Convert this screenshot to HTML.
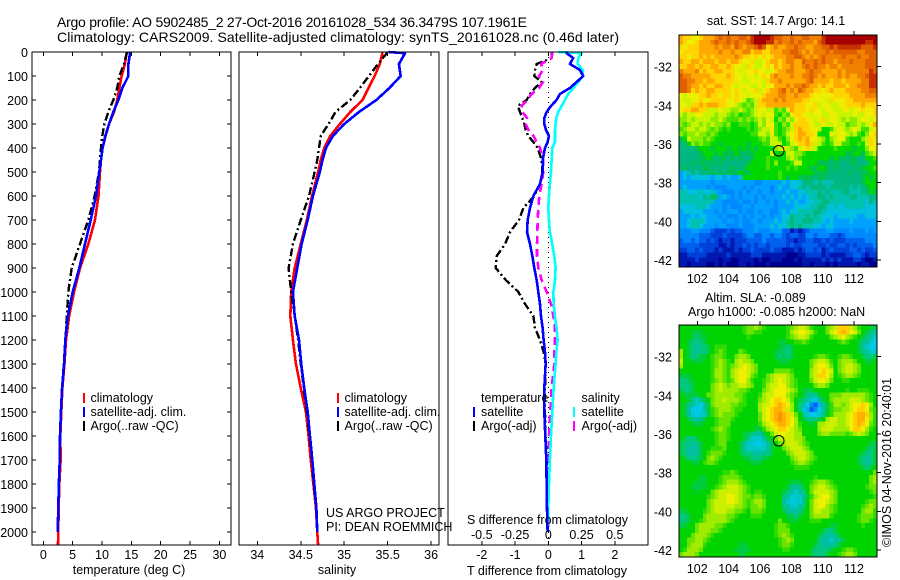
<!DOCTYPE html>
<html>
<head>
<meta charset="utf-8">
<title>Argo profile</title>
<style>
html,body{margin:0;padding:0;background:#fff;}
svg{display:block;}
text{font-family:"Liberation Sans",sans-serif;font-size:12.5px;fill:#000;}
.axisbox{fill:none;stroke:#000;stroke-width:1;shape-rendering:crispEdges;}
.tick{stroke:#000;stroke-width:1;shape-rendering:crispEdges;}
.series{fill:none;shape-rendering:crispEdges;stroke-linejoin:round;}
</style>
</head>
<body>
<svg id="chart" xmlns="http://www.w3.org/2000/svg" width="900" height="580" viewBox="0 0 900 580">
  <rect x="0" y="0" width="900" height="580" fill="#fff"/>
  <text x="57" y="27" style="font-size:14px" textLength="470">Argo profile: AO 5902485_2 27-Oct-2016 20161028_534 36.3479S 107.1961E</text>
  <text x="57" y="42" style="font-size:14px" textLength="562">Climatology: CARS2009. Satellite-adjusted climatology: synTS_20161028.nc (0.46d later)</text>

  <g id="temp-panel"></g>
  <g id="sal-panel"></g>
  <g id="diff-panel"></g>
  <g id="sst-map"></g>
  <g id="sla-map"></g>

  <text x="129" y="574" text-anchor="middle">temperature (deg C)</text>
  <text x="337" y="574" text-anchor="middle">salinity</text>
  <text x="547" y="575" text-anchor="middle">T difference from climatology</text>
  <text x="467" y="524">S difference from climatology</text>

  <g>
    <rect x="83" y="393" width="2" height="10" fill="#f00"/>
    <rect x="83" y="407" width="2" height="10" fill="#00f"/>
    <rect x="83" y="421" width="2" height="10" fill="#000"/>
    <text x="90.5" y="402">climatology</text>
    <text x="90.5" y="416">satellite-adj. clim.</text>
    <text x="90.5" y="430">Argo(..raw -QC)</text>
  </g>
  <g>
    <rect x="337" y="393" width="2" height="10" fill="#f00"/>
    <rect x="337" y="407" width="2" height="10" fill="#00f"/>
    <rect x="337" y="421" width="2" height="10" fill="#000"/>
    <text x="344.5" y="402">climatology</text>
    <text x="344.5" y="416">satellite-adj. clim.</text>
    <text x="344.5" y="430">Argo(..raw -QC)</text>
  </g>
  <text x="326" y="517">US ARGO PROJECT</text>
  <text x="326" y="531">PI: DEAN ROEMMICH</text>
  <g>
    <text x="481" y="402">temperature</text>
    <text x="581.5" y="402">salinity</text>
    <rect x="473" y="407" width="2" height="10" fill="#00f"/>
    <rect x="473" y="421" width="2" height="10" fill="#000"/>
    <rect x="573" y="407" width="2" height="10" fill="#0ff"/>
    <rect x="573" y="421" width="2" height="10" fill="#f0f"/>
    <text x="481" y="416">satellite</text>
    <text x="481" y="430">Argo(-adj)</text>
    <text x="581.5" y="416">satellite</text>
    <text x="581.5" y="430">Argo(-adj)</text>
  </g>

  <text x="776" y="25" text-anchor="middle">sat. SST: 14.7 Argo: 14.1</text>
  <text x="705" y="302">Altim. SLA: -0.089</text>
  <text x="688" y="316">Argo h1000: -0.085 h2000: NaN</text>
  <text transform="translate(891,547) rotate(-90)">©IMOS 04-Nov-2016 20:40:01</text>
</svg>

<script>
// ---------- profile data ----------
const profileDepths = [0,5,50,100,150,200,250,300,350,400,450,500,600,700,800,900,1000,1100,1200,1300,1400,1500,1600,1700,1800,1900,2000,2055];
const tempClim = [14.2,14.2,13.9,13.35,12.95,12.6,12.05,11.2,10.6,10.1,9.83,9.66,9.4,8.8,7.67,6.25,5.23,4.4,3.87,3.6,3.25,3.07,2.9,2.95,2.73,2.62,2.55,2.5];
const tempSat = [14.77,14.77,14.5,14.5,13.46,12.78,11.93,11.2,10.56,10.1,9.83,9.54,8.98,8.07,7.1,6.14,5.0,4.2,3.75,3.55,3.2,3.0,2.85,2.8,2.65,2.55,2.45];
const tempArgo = [14.2,14.2,13.75,12.95,12.6,11.93,11.07,10.4,10.05,9.83,9.66,9.49,8.75,7.67,6.25,4.83,4.26,4.0,3.75,3.5,3.2,3.0,2.85,2.8,2.65,2.55,2.45];
const salClim = [35.44,35.44,35.41,35.35,35.28,35.21,35.07,34.95,34.84,34.77,34.73,34.70,34.63,34.57,34.50,34.43,34.39,34.38,34.41,34.445,34.50,34.56,34.59,34.615,34.645,34.675,34.69,34.70];
const salSat = [35.51,35.70,35.63,35.65,35.52,35.37,35.17,35.0,34.87,34.79,34.75,34.72,34.64,34.58,34.51,34.46,34.41,34.43,34.48,34.506,34.54,34.58,34.606,34.633,34.656,34.68,34.69];
const salArgo = [35.49,35.49,35.39,35.285,35.18,35.07,34.90,34.82,34.73,34.71,34.69,34.66,34.595,34.50,34.41,34.36,34.39,34.43,34.47,34.5,34.535,34.57,34.6,34.63,34.65,34.68,34.69];

const diffDepths = [0,5,25,50,75,100,125,150,175,200,225,250,275,300,325,350,375,400,450,500,550,600,650,700,750,800,850,900,950,1000,1050,1100,1150,1200,1250,1300,1400,1500,1600,1700,1800,1900,2000];
const diffTSat = [0.55,0.55,0.75,0.65,0.95,1.05,0.85,0.65,0.35,0.25,0.08,-0.05,-0.12,-0.12,-0.07,0.02,-0.02,-0.10,-0.17,-0.17,-0.25,-0.45,-0.55,-0.62,-0.64,-0.55,-0.48,-0.42,-0.35,-0.30,-0.25,-0.22,-0.17,-0.14,-0.10,-0.08,-0.12,-0.12,-0.09,-0.06,-0.05,-0.04,-0.02];
const diffTArgo = [0.1,0.1,0.1,-0.35,-0.4,-0.42,-0.2,-0.4,-0.55,-0.65,-0.92,-0.85,-0.78,-0.72,-0.68,-0.60,-0.45,-0.32,-0.2,-0.18,-0.25,-0.42,-0.75,-0.88,-1.15,-1.30,-1.55,-1.58,-1.28,-0.90,-0.70,-0.45,-0.40,-0.25,-0.14,-0.08,-0.10,-0.10,-0.08,-0.05,-0.04,-0.03,-0.02];
const diffSSat = [0.075,0.25,0.225,0.22,0.26,0.26,0.225,0.19,0.15,0.125,0.10,0.075,0.06,0.055,0.05,0.05,0.05,0.03,0.025,0.02,0.012,0.005,0,0.005,0.012,0.03,0.045,0.055,0.05,0.038,0.04,0.05,0.062,0.07,0.06,0.055,0.04,0.03,0.02,0.012,0.005,0,-0.005];
const diffSArgo = [0.025,0.03,0.025,-0.055,-0.04,-0.07,-0.04,-0.07,-0.125,-0.16,-0.2,-0.195,-0.16,-0.17,-0.15,-0.11,-0.088,-0.062,-0.038,-0.038,-0.05,-0.068,-0.075,-0.08,-0.082,-0.085,-0.085,-0.075,-0.05,-0.012,0.02,0.038,0.05,0.05,0.045,0.045,0.025,0.015,0.005,0,0,0,0];

// ---------- tick labels ----------
const depthTicks = [0,100,200,300,400,500,600,700,800,900,1000,1100,1200,1300,1400,1500,1600,1700,1800,1900,2000];
const tempTicks = [0,5,10,15,20,25,30];
const salTicks = [34,34.5,35,35.5,36];
const diffTTicks = [-2,-1,0,1,2];
const diffSTicks = [-0.5,-0.25,0,0.25,0.5];
const lonTicks = [102,104,106,108,110,112];
const latTicks = [-32,-34,-36,-38,-40,-42];
const floatLon = 107.1961;
const floatLat = -36.3479;

// ---------- map colour levels a..u ----------
const sstColors = ["#000090","#0018b0","#0040d8","#0060f0","#0088ff","#00a0ff","#00c0e0","#00c0b0","#00b880","#00c050","#00d800","#40e000","#88ec00","#c8f400","#ecf000","#ffd400","#ffa800","#f08000","#e06000","#c83000","#a80000"];
const slaColors = ["#000090","#0018b0","#0060f0","#0090f0","#00b0f0","#00c8e8","#00c8c8","#00c0a0","#00c880","#00cc40","#00d400","#30dc00","#68e400","#a0ec00","#ccf000","#f0f000","#ffd000","#ffb000","#ff9000","#c83000","#a80000"];

// ---------- SST grid, one level code per cell ----------
const sstRows = [
"qppoopqqqr srsrrssrtu uuutssrrsr rssrrrtuuu uuuuuuuuuu",
"qpoopqqqrs rrsrsrrstu uuttrsrrsr srrrqstuuu uuuuuuuttu",
"popppqqqqr qrrqsrqrrs tspqrqqrrs rrqqrrssts ttttttssst",
"oppppqqqqq rqqrqqrrpq qppqqqrrss rqrqrrrsrs sssssrrsss",
"ppoppqpqpq qqqqrqppop opopqqqrrs srqrqrsrrr rsrrrsrrss",
"qppqqpqqqp qqpqqpoopn nopqqpqrrq qsrrsrsrrq rrrsrrrsss",
"ppqqpqppqq ppqpoonpon nopoqpqqrq qrsrsrrqrr qrrrrrrsss",
"rqqqrpqppq qppponooop oonopqqrrq qqrsrrqqqq rqrrrrrrts",
"srrqqqqqpp ppqpoonoon opoqrqqqrq qrrsrqrqqq rqrqqrrstt",
"ssrrqqpqqp ppppoonnoo onpqqrqqqq qqrsqqqqpq qpqqqqrrtt",
"ssrqqpqppq qpponooonn onooqqqrqr rsrqqpqppq qqpqqrrrtt",
"ssrpqppqqp pppoponoop nopqqrsqrq srqqppopqp ppqqqqrrss",
"onoooppqpp oppopoonoo opqqqrrqqr qqqpooooop pppqqqqrrr",
"onnoopoopp ppooponlmn pqqqrqrqqq qppoooonpo ooppqqqqqq",
"oonppqpqqq ppoonmlmln ppqqqqqqqp ppoopnoonn ooppppqppp",
"oppqqppnnn onnmmnmlmn oonnlmloqp ppopoonoon noonoopoop",
"nmnnoonnnm nnmlmkllmn onoolkmlop poonoonnoo nnnnonnoop",
"mmnmnnnnmm nmlllmlmlm nmonkmlnmo ppoonopnoo nmnmmnoono",
"mlmnnmnmnm mlmkklllkl nmoolkmlnp ppponnonno nnlmmnmnoq",
"lmnnmnnmlm lklkkkklkl mnnolklmnp qppoonkkln onmnonllno",
"mlmmnmmlml kkkkkkkkll nnmolklnop qqppokkkon oonmnlkmop",
"jknmmmlmlk kkkkkkkkkk lmlnnlkmop qpqoonmkmn oolkkkmnpo",
"iikmlmllkk jkkkkkkjkk kllnnnklno ppqpnnlkln nllkklknpo",
"iiiijkkkjk kkjkkjkjkj kkkkmnonml nopnnkkkkl kkkkjkkmoo",
"iiiiijkkkj kjjjkjijjk kkknkkknnm mlkkkkkkkk kkjjkkjlmn",
"iiiiijjkji jjijijiijk kklkkkkmnm lkkkkkkkjk jjijjiikkl",
"iiijijjiji jiiiiiijkk kklkmkkkln nkkkkjjjij iiijjiiikk",
"ijiiiijjii iiijiijkkk kklkkkklkl kkkjjkkjij iiiiijjkkl",
"fghihiiiji jijjjkjjkk kkkkklkkkk kkkkjjjjii iiijiijjkk",
"fgfgggggfg gfgffgkkkk kkkkklkjkk jjjjijjiii iiiiiijkjk",
"ffffffffef fffffffffe efffffgfgg giiihihhhi iiiiiijkkk",
"fgfffffefe eeffffefef fffefgffgg hihiiiihii iiihihijkk",
"hhggghgghf feeefefeff effefffgff gghhhihihh hiihhhiikj",
"hhhhhgihji fgfefefffe feffffgfgf gfghhiihih hhhiihhhii",
"hhhhhhhhhf feeeefeefe ffefeffgfg ffgghhiihh hhhhhhhgih",
"gggghhhgff fefeeeffef ffffeffffg ggghhiihgh gghhhhhggg",
"fgggggfffe fefffefeef effeefgfgg hhhhiihggg gggggggggg",
"fffgfggfff efeeefefef fefeffggih hhihihgggf gggggffggg",
"ffghhhgfff feffefeeff efffgfghih hiiihhgfgf fffgffffff",
"ffghhgfffe ffeeefeeef fffgfgghih ihhhggfggf ffffffffff",
"eeeffeeedc ccdcddeeef eeefffddbc bcdeeeeffe eeefeeefef",
"eeeeedddcc cdccccdeed deedeedcdd cceedeeedd cdeeeeeeee",
"deededdcdc bccbcccddd dedddddccb ccddccdcdc ccdddddeee",
"dddddccccc bbcbccdcdc ddcddddcdc cddddccdcc ddcdcdddde",
"ccddcdcccb cbbbcbccdc cccdccbbbc bcddcdbcdc cccddcdccd",
"bbcccccbbb bbcbbbbbcc cbbbbbbaaa bbccccbcbb bbccddcbcc",
"bbbbcbbbbb abbaabbbba baabbbaaab abbbbbcbcb cbbbccbaab",
"bbabbbbaab abaaabbaba aabaaaaaaa abbabbbaba bbbbbabbaa"
];

// ---------- SLA grid, one level code per cell ----------
const slaRows = [
"kkkkkkkkkk kkkkkklmmn mlkkkkklmn oonlkkkmno qqqonlkkjj",
"kkkjjjkkkk kkkkkklmml lkkkkkklno pponlkkmop qrqpomkjih",
"kkkjijjkkk kkkkkkklkk kkkkkkklmn oonlkkkkmn opnmlkjihg",
"kkjiiijkkk kkkkkkkkkk kkkkkjjkkl lmlkkkkkkk lmlkkjihgf",
"kkjihiijkl llkkkkkkkk kkkkkjjijk kkkkkkkkkk kkkkkjhgff",
"nkjihiijkl mlkkkmlkkk kkkkjjiijk kkkkkkkkkk kkkkkjihgg",
"nkjiijjklm mlkkmnnmkk kkkkjijijk kkkklmmlkk lmmlkkjiij",
"okkjjjkklm nmlknonnmk kkkkkjjjkk kkkmnoonlk mnnnmkkjjk",
"nkkkkkkklm nmlmnoponm kkkkkkkkkk kkkmoppomk mnoonmkkkk",
"kkkkkkkkln nmlnopponm kkkkmmmmlk kkknopqpok mnoonmkkkk",
"jjjkkkkkln nmlnoppoml kkmnooonmk kkknoqqpnk lmnnmlkkkk",
"iijjkkkklm nmlmoppnlk klmnoponml kkkmoppomk kllkkkkkkk",
"iiijkkkkmn onmnnoonmk klnooppnml kkkkmnnmkk kkkkkkkkkk",
"jiijkkkkmn onnnnmmlkk kmnoppponm kjjjkkkkkk kklkklllkk",
"kjjjjkkmmn nnnnmmlkkk lnoopppnml kjihijkkmm mnnnnnnmlk",
"kkjigijkmn nonnnmlkkk mnopqqpomk jihgfhjkmn nnnooonmlk",
"kjihgfhjmn nnnmmllkkk noopqrqpnk ihfdcehjln nmnoppqpnk",
"kjhfffhjlm nnnmllkkkk nopqrrqonk igecdfhjlm mnnopqqpml",
"kjhgfggjlm nmmmlkkkkk mopqrsrqom kigffghkln nnopqrrqnl",
"kkjhhhjkkl mmmlkkkkkk mopqrsrqpn kjiiijknoo nnopqrrpnl",
"kkkjjjkkkl mmmkkkkkkk lnopqrrqpn lkkjknnooo nnopqrqpml",
"kkkkkkkklm nmlkkkkkkj jlnopqqpon mkkkknooon nnnpqqpnlk",
"kkkkkkkkkl mmlkkkjjih hjkmoppoon nkkkkmnnmm mmlmnonmkk",
"kjiijkkkkl mmlkkkjigg ghjkmoooon nmkkkkkkkk kkkkkkkkkk",
"jiihijkkkl mmkkkjhggf fghjkmnooo nmlkkkkkkk kkkkkkkkjj",
"jihhhjkkll lmkkkjhggg gghjkkmnoo onmkkkkkkk kkkkkkkjij",
"jihhhjklmm mlkkkjiihh hhijkkkmno oonmkkkkkk kkkkkkjiij",
"kjiiijkmnm lkkkkkjjii ijjkkkkkmn oonmlkkkkk kkkkkjihij",
"kkkjjklmml kkkkkkkkjj jkkkkkkklm nnmlkkkkkk kkkkkjihij",
"kkkkkkkkkk kkkkkkkkkk kkkkkkkkkl lllkkkkkkk kkkkkkjijk",
"kkkkkkkkkk kllmlkkkkk kkkkkkkkkk kkkkkkkkkk kkkkkkkkkm",
"kkkkkjjkkk lmmmmlkkkk kkkkkkkkkk kkkklkkkkk kkkkkkkkmn",
"kkkkjjjkkk lmnnnmlkkk kkkkkkkkjj jkklmnnmlk kkkkkkkkmn",
"kkkjjjjkkl mnooonmlkk kkkkkkkjih ijkmnoonml kkkkkkklmm",
"kkkkjkkkmn ooooonmlkl lkkkkkjihg hikmoooonm kkkkkkkklm",
"kkkkkkklmn oopponmmlm mlkkkkihgg ghjlnoppnm kkkkkkkkkl",
"kkkkkkkmno oopponmlmn nmkkkkhgfg ghkmopponm kkkkkkklmm",
"kkkkkkkmno oooonnmlmm nmkkkkihgg hikmoppnml kkkkkklmnm",
"jjkkkklmno oonnmmlkmm mlkkkkjhhh ijkmoonnml kkkkkkmnnl",
"iijkkkmnnn nnmmlkkkll lkkkkkkjji jkkmnnnnlk kkkkklmmml",
"iijkklmnnn nnmlkkkkkk kkkkkmkkjj kkklllkkkk kkkkklmmlk",
"jjkkmnnnnm mlkkkkkkkk kkkklmmlkk kkkkkkkkjj kkkkkklkkk",
"kkkkmnnnmm lkkkkkkkkk kkkklmmmkk kkkkkkjiij kkkkkkkkkk",
"kkkmnnnmlk kkkkkkkkkk kkkklmnmlk kkkkkjihhi jkkkkkkkkk",
"kkmmnnmlkk kkkkkkkkkk kkkkklmnmk kkkkkihhgh ijkkkkkkkk",
"kkmnnnlkkk kkkkkjjkkk kkkkklmmlk kkkkjihhhi jkkkkkkkkk",
"klnnnmkkkk kkkkjjjjkk kkkkkkllkk kkkjiiiijk klmmlkkkkk",
"mnnnmkkkkk kkkkkjjkkk kkkkkkkkkk kkkjiiijkk lmnnmkkkkk"
];

// ---------- axis functions ----------
const yDepth = d => 52 + 0.24 * d;
const xTemp = v => 43.3 + 5.87 * v;
const xSal = v => 257.3 + 86.9 * (v - 34);
const xDiffT = v => 548.3 + 33.25 * v;
const xDiffS = v => xDiffT(v * 4);
const xLon = v => 697.3 + 15.67 * (v - 102);
const yLatSst = v => 66.7 + 19.33 * (-32 - v);
const yLatSla = v => 356.7 + 19.33 * (-32 - v);

const NS = "http://www.w3.org/2000/svg";
function make(tag, parent, attrs) {
  const el = document.createElementNS(NS, tag);
  for (const k in attrs) el.setAttribute(k, attrs[k]);
  parent.appendChild(el);
  return el;
}
function addLine(parent, x1, y1, x2, y2, name) {
  const el = make("line", parent, {x1: x1, y1: y1, x2: x2, y2: y2, class: "tick"});
  
  
}
function addLabel(parent, x, y, str, anchor, name) {
  const el = make("text", parent, {x: x, y: y, "text-anchor": anchor});
  el.textContent = str;
  
  
}
function addSeries(parent, xs, depths, xScale, color, width, dash, name) {
  const n = Math.min(xs.length, depths.length);
  const pts = [];
  for (let i = 0; i < n; i++) pts.push(xScale(xs[i]).toFixed(2) + "," + yDepth(depths[i]).toFixed(2));
  const el = make("polyline", parent, {points: pts.join(" "), class: "series", stroke: color, "stroke-width": width});
  if (dash) el.setAttribute("stroke-dasharray", dash);
  
  
}
function addBox(parent, x, y, w, h, name) {
  const el = make("rect", parent, {x: x, y: y, width: w, height: h, class: "axisbox"});
  
  
}

// ---------- temperature panel ----------
const tp = document.getElementById("temp-panel");
addSeries(tp, tempClim, profileDepths, xTemp, "#f00", 2.6, null, "temperature-climatology-line");
addSeries(tp, tempArgo, profileDepths, xTemp, "#000", 2.4, "8 3 2 3", "temperature-argo-line");
addSeries(tp, tempSat, profileDepths, xTemp, "#00f", 2.6, null, "temperature-satellite-line");
addBox(tp, 32, 52, 199, 493, "temperature-axes-box");
depthTicks.forEach(d => {
  addLine(tp, 32, yDepth(d), 36, yDepth(d), "depth-tick-left");
  addLine(tp, 227, yDepth(d), 231, yDepth(d), "depth-tick-right");
  addLabel(tp, 28, yDepth(d) + 5, String(d), "end", "depth-tick-label");
});
tempTicks.forEach(v => {
  addLine(tp, xTemp(v), 52, xTemp(v), 56, "temperature-tick-top");
  addLine(tp, xTemp(v), 541, xTemp(v), 545, "temperature-tick-bottom");
  addLabel(tp, xTemp(v), 559, String(v), "middle", "temperature-tick-label");
});

// ---------- salinity panel ----------
const sp = document.getElementById("sal-panel");
addSeries(sp, salClim, profileDepths, xSal, "#f00", 2.6, null, "salinity-climatology-line");
addSeries(sp, salArgo, profileDepths, xSal, "#000", 2.4, "8 3 2 3", "salinity-argo-line");
addSeries(sp, salSat, profileDepths, xSal, "#00f", 2.6, null, "salinity-satellite-line");
addBox(sp, 239, 52, 200, 493, "salinity-axes-box");
salTicks.forEach(v => {
  addLine(sp, xSal(v), 52, xSal(v), 56, "salinity-tick-top");
  addLine(sp, xSal(v), 541, xSal(v), 545, "salinity-tick-bottom");
  addLabel(sp, xSal(v), 559, String(v), "middle", "salinity-tick-label");
});

// ---------- difference panel ----------
const dp = document.getElementById("diff-panel");
const zeroLine = make("line", dp, {x1: xDiffT(0), y1: 52, x2: xDiffT(0), y2: 545, stroke: "#000", "stroke-width": 1, "stroke-dasharray": "1 4", "shape-rendering": "crispEdges"});


addSeries(dp, diffTArgo, diffDepths, xDiffT, "#000", 2.4, "8 3 2 3", "t-difference-argo-line");
addSeries(dp, diffSArgo, diffDepths, xDiffS, "#f0f", 2.6, "8 5", "s-difference-argo-line");
addSeries(dp, diffSSat, diffDepths, xDiffS, "#0ff", 2.6, null, "s-difference-satellite-line");
addSeries(dp, diffTSat, diffDepths, xDiffT, "#00f", 2.6, null, "t-difference-satellite-line");
addBox(dp, 448, 52, 200, 493, "difference-axes-box");
diffTTicks.forEach(v => {
  addLine(dp, xDiffT(v), 52, xDiffT(v), 56, "t-difference-tick-top");
  addLine(dp, xDiffT(v), 541, xDiffT(v), 545, "t-difference-tick-bottom");
  addLabel(dp, xDiffT(v), 559, String(v), "middle", "t-difference-tick-label");
});
diffSTicks.forEach(v => {
  addLabel(dp, xDiffS(v), 539, String(v), "middle", "s-difference-tick-label");
});

// ---------- maps ----------
function drawMap(group, rows, palette, top, height, yLat, prefix) {
  const left = 679, width = 198;
  const cleaned = rows.map(r => r.replace(/ /g, ""));
  const cellH = height / cleaned.length;
  cleaned.forEach((row, r) => {
    const cellW = width / row.length;
    for (let c = 0; c < row.length; c++) {
      const cell = make("rect", group, {
        x: (left + c * cellW).toFixed(2),
        y: (top + r * cellH).toFixed(2),
        width: (cellW + 0.4).toFixed(2),
        height: (cellH + 0.4).toFixed(2),
        fill: palette[row.charCodeAt(c) - 97],
        "shape-rendering": "crispEdges"
      });
      
      
    }
  });
  addBox(group, left, top, width, height, prefix + "-axes-box");
  lonTicks.forEach(v => {
    addLine(group, xLon(v), top - 4, xLon(v), top, prefix + "-longitude-tick");
    addLabel(group, xLon(v), top + height + 16, String(v), "middle", prefix + "-longitude-label");
  });
  latTicks.forEach(v => {
    addLine(group, left + width, yLat(v), left + width + 4, yLat(v), prefix + "-latitude-tick");
    addLabel(group, 672, yLat(v) + 5, String(v), "end", prefix + "-latitude-label");
  });
  const marker = make("circle", group, {cx: xLon(floatLon), cy: yLat(floatLat), r: 5.3, fill: "none", stroke: "#000", "stroke-width": 1});
  
  
}
drawMap(document.getElementById("sst-map"), sstRows, sstColors, 35, 232, yLatSst, "sst");
drawMap(document.getElementById("sla-map"), slaRows, slaColors, 325, 232, yLatSla, "sla");
</script>
</body>
</html>
